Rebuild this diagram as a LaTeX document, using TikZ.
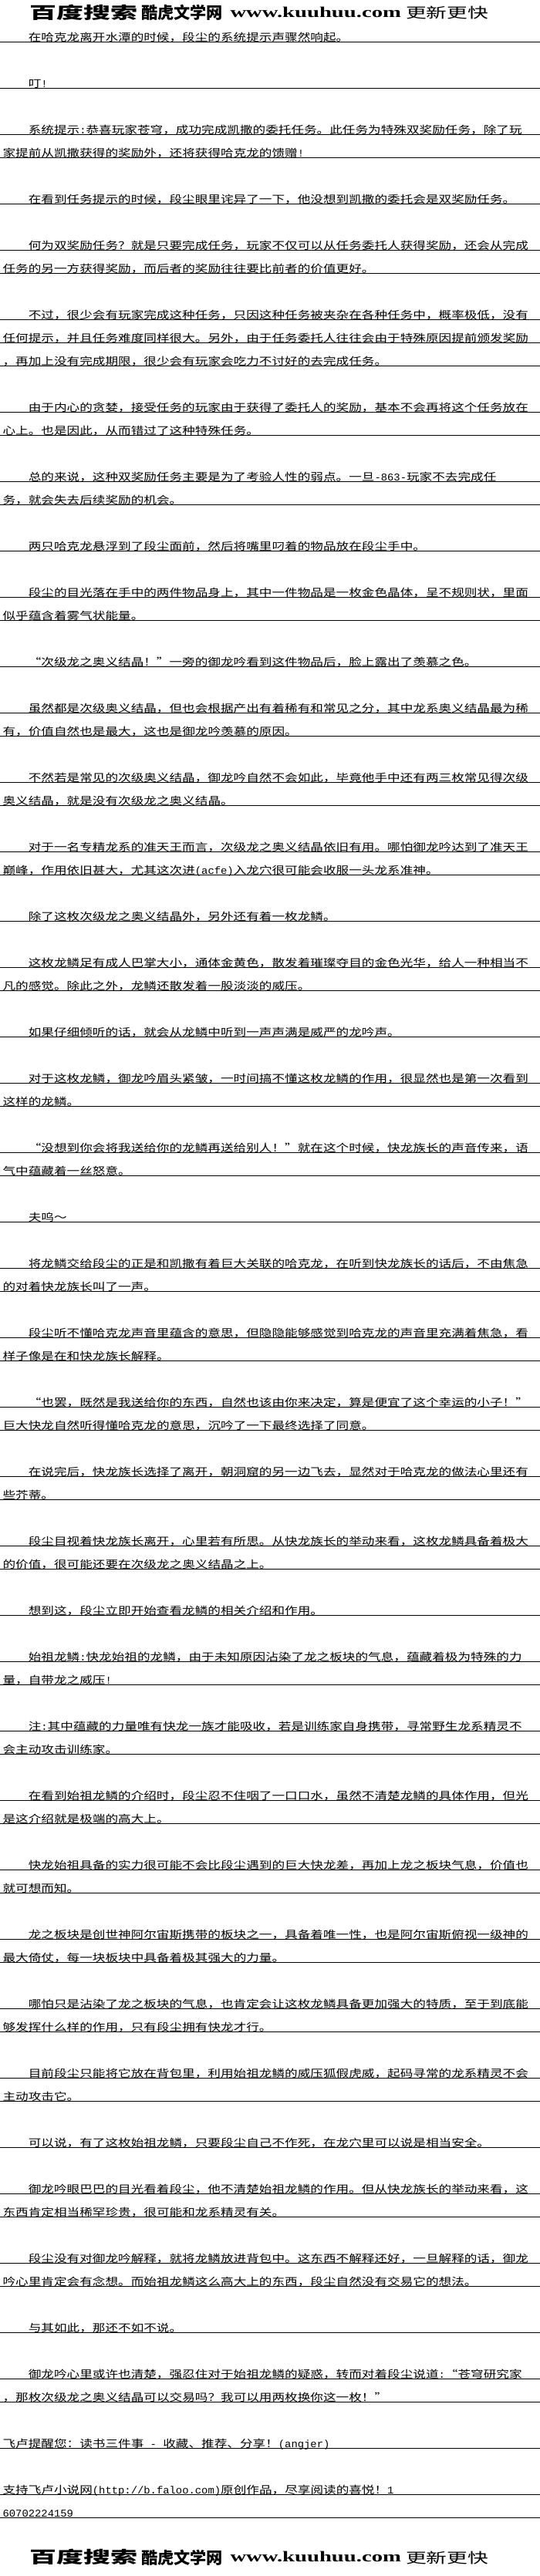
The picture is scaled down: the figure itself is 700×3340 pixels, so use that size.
\documentclass[tikz,border=0pt]{standalone}
\usepackage{graphicx}
\usepackage{fontspec}
\newfontfamily\cjk[FakeStretch=1.2311]{Noto Sans CJK SC}
\newfontfamily\ascfont[FakeStretch=1.026]{Liberation Mono}
\newfontfamily\logoserif{Liberation Serif}
\newfontfamily\logocjk{Noto Sans CJK SC}
\newcommand\AS[1]{{\ascfont #1}}
\tikzset{
  txt/.style={anchor=base west, inner sep=0pt, outer sep=0pt, font=\fontsize{13.5pt}{16pt}\cjk},
  rulel/.style={line width=1pt, draw=black},
  logo/.style={anchor=north west, inner sep=0pt, outer sep=0pt},
  logob/.style={anchor=south west, inner sep=0pt, outer sep=0pt},
}
% indented line
\newcommand\TI[2]{\node[txt] (t#1) at (36.8,{-(53.8+30*#1)}) {#2};
  \draw[rulel] (0,{-(54.3+30*#1)}) -- (700,{-(54.3+30*#1)});}
% non-indented line
\newcommand\TN[2]{\node[txt] (t#1) at (3.6,{-(53.8+30*#1)}) {#2};
  \draw[rulel] (0,{-(54.3+30*#1)}) -- (700,{-(54.3+30*#1)});}
% site logo
\newcommand\LOGO[2]{%
  \node[logo] (#1a) at (38.4,{-(6+#2)}) {\resizebox*{140pt}{20.5pt}{\logocjk\bfseries 百度搜索}};
  \node[logo] (#1b) at (183,{-(6+#2)}) {\resizebox*{106pt}{20.5pt}{\logocjk\bfseries 酷虎文学网}};
  \node[logob] (#1c) at (298.5,{-(22.7+#2)}) {\resizebox{221.5pt}{13.4pt}{\logoserif\bfseries www.kuuhuu.com}};
  \node[logo] (#1d) at (526,{-(8+#2)}) {\resizebox*{107pt}{17pt}{\logocjk 更新更快}};}
\begin{document}
\begin{tikzpicture}[x=1pt,y=1pt]
\fill[white] (0,0) rectangle (700,-3340);
\useasboundingbox (0,0) rectangle (700,-3340);
\LOGO{top}{0}
\TI{0}{在哈克龙离开水潭的时候，段尘的系统提示声骤然响起。}
\TI{2}{叮\AS{!}}
\TI{4}{系统提示\AS{:}恭喜玩家苍穹，成功完成凯撒的委托任务。此任务为特殊双奖励任务，除了玩}
\TN{5}{家提前从凯撒获得的奖励外，还将获得哈克龙的馈赠\AS{!}}
\TI{7}{在看到任务提示的时候，段尘眼里诧异了一下，他没想到凯撒的委托会是双奖励任务。}
\TI{9}{何为双奖励任务？就是只要完成任务，玩家不仅可以从任务委托人获得奖励，还会从完成}
\TN{10}{任务的另一方获得奖励，而后者的奖励往往要比前者的价值更好。}
\TI{12}{不过，很少会有玩家完成这种任务，只因这种任务被夹杂在各种任务中，概率极低，没有}
\TN{13}{任何提示，并且任务难度同样很大。另外，由于任务委托人往往会由于特殊原因提前颁发奖励}
\TN{14}{，再加上没有完成期限，很少会有玩家会吃力不讨好的去完成任务。}
\TI{16}{由于内心的贪婪，接受任务的玩家由于获得了委托人的奖励，基本不会再将这个任务放在}
\TN{17}{心上。也是因此，从而错过了这种特殊任务。}
\TI{19}{总的来说，这种双奖励任务主要是为了考验人性的弱点。一旦\AS{-863-}玩家不去完成任}
\TN{20}{务，就会失去后续奖励的机会。}
\TI{22}{两只哈克龙悬浮到了段尘面前，然后将嘴里叼着的物品放在段尘手中。}
\TI{24}{段尘的目光落在手中的两件物品身上，其中一件物品是一枚金色晶体，呈不规则状，里面}
\TN{25}{似乎蕴含着雾气状能量。}
\TI{27}{“次级龙之奥义结晶！”一旁的御龙吟看到这件物品后，脸上露出了羡慕之色。}
\TI{29}{虽然都是次级奥义结晶，但也会根据产出有着稀有和常见之分，其中龙系奥义结晶最为稀}
\TN{30}{有，价值自然也是最大，这也是御龙吟羡慕的原因。}
\TI{32}{不然若是常见的次级奥义结晶，御龙吟自然不会如此，毕竟他手中还有两三枚常见得次级}
\TN{33}{奥义结晶，就是没有次级龙之奥义结晶。}
\TI{35}{对于一名专精龙系的准天王而言，次级龙之奥义结晶依旧有用。哪怕御龙吟达到了准天王}
\TN{36}{巅峰，作用依旧甚大，尤其这次进\AS{(acfe)}入龙穴很可能会收服一头龙系准神。}
\TI{38}{除了这枚次级龙之奥义结晶外，另外还有着一枚龙鳞。}
\TI{40}{这枚龙鳞足有成人巴掌大小，通体金黄色，散发着璀璨夺目的金色光华，给人一种相当不}
\TN{41}{凡的感觉。除此之外，龙鳞还散发着一股淡淡的威压。}
\TI{43}{如果仔细倾听的话，就会从龙鳞中听到一声声满是威严的龙吟声。}
\TI{45}{对于这枚龙鳞，御龙吟眉头紧皱，一时间搞不懂这枚龙鳞的作用，很显然也是第一次看到}
\TN{46}{这样的龙鳞。}
\TI{48}{“没想到你会将我送给你的龙鳞再送给别人！”就在这个时候，快龙族长的声音传来，语}
\TN{49}{气中蕴藏着一丝怒意。}
\TI{51}{夫呜～}
\TI{53}{将龙鳞交给段尘的正是和凯撒有着巨大关联的哈克龙，在听到快龙族长的话后，不由焦急}
\TN{54}{的对着快龙族长叫了一声。}
\TI{56}{段尘听不懂哈克龙声音里蕴含的意思，但隐隐能够感觉到哈克龙的声音里充满着焦急，看}
\TN{57}{样子像是在和快龙族长解释。}
\TI{59}{“也罢，既然是我送给你的东西，自然也该由你来决定，算是便宜了这个幸运的小子！”}
\TN{60}{巨大快龙自然听得懂哈克龙的意思，沉吟了一下最终选择了同意。}
\TI{62}{在说完后，快龙族长选择了离开，朝洞窟的另一边飞去，显然对于哈克龙的做法心里还有}
\TN{63}{些芥蒂。}
\TI{65}{段尘目视着快龙族长离开，心里若有所思。从快龙族长的举动来看，这枚龙鳞具备着极大}
\TN{66}{的价值，很可能还要在次级龙之奥义结晶之上。}
\TI{68}{想到这，段尘立即开始查看龙鳞的相关介绍和作用。}
\TI{70}{始祖龙鳞\AS{:}快龙始祖的龙鳞，由于未知原因沾染了龙之板块的气息，蕴藏着极为特殊的力}
\TN{71}{量，自带龙之威压\AS{!}}
\TI{73}{注\AS{:}其中蕴藏的力量唯有快龙一族才能吸收，若是训练家自身携带，寻常野生龙系精灵不}
\TN{74}{会主动攻击训练家。}
\TI{76}{在看到始祖龙鳞的介绍时，段尘忍不住咽了一口口水，虽然不清楚龙鳞的具体作用，但光}
\TN{77}{是这介绍就是极端的高大上。}
\TI{79}{快龙始祖具备的实力很可能不会比段尘遇到的巨大快龙差，再加上龙之板块气息，价值也}
\TN{80}{就可想而知。}
\TI{82}{龙之板块是创世神阿尔宙斯携带的板块之一，具备着唯一性，也是阿尔宙斯俯视一级神的}
\TN{83}{最大倚仗，每一块板块中具备着极其强大的力量。}
\TI{85}{哪怕只是沾染了龙之板块的气息，也肯定会让这枚龙鳞具备更加强大的特质，至于到底能}
\TN{86}{够发挥什么样的作用，只有段尘拥有快龙才行。}
\TI{88}{目前段尘只能将它放在背包里，利用始祖龙鳞的威压狐假虎威，起码寻常的龙系精灵不会}
\TN{89}{主动攻击它。}
\TI{91}{可以说，有了这枚始祖龙鳞，只要段尘自己不作死，在龙穴里可以说是相当安全。}
\TI{93}{御龙吟眼巴巴的目光看着段尘，他不清楚始祖龙鳞的作用。但从快龙族长的举动来看，这}
\TN{94}{东西肯定相当稀罕珍贵，很可能和龙系精灵有关。}
\TI{96}{段尘没有对御龙吟解释，就将龙鳞放进背包中。这东西不解释还好，一旦解释的话，御龙}
\TN{97}{吟心里肯定会有念想。而始祖龙鳞这么高大上的东西，段尘自然没有交易它的想法。}
\TI{99}{与其如此，那还不如不说。}
\TI{101}{御龙吟心里或许也清楚，强忍住对于始祖龙鳞的疑惑，转而对着段尘说道\AS{:}“苍穹研究家}
\TN{102}{，那枚次级龙之奥义结晶可以交易吗？我可以用两枚换你这一枚！”}
\TN{104}{飞卢提醒您：读书三件事\AS{ - }收藏、推荐、分享！\AS{(angjer)}}
\TN{106}{支持飞卢小说网\AS{(http://b.faloo.com)}原创作品，尽享阅读的喜悦！\AS{1}}
\TN{107}{\AS{60702224159}}
\LOGO{bot}{3299.5}
\end{tikzpicture}
\end{document}
